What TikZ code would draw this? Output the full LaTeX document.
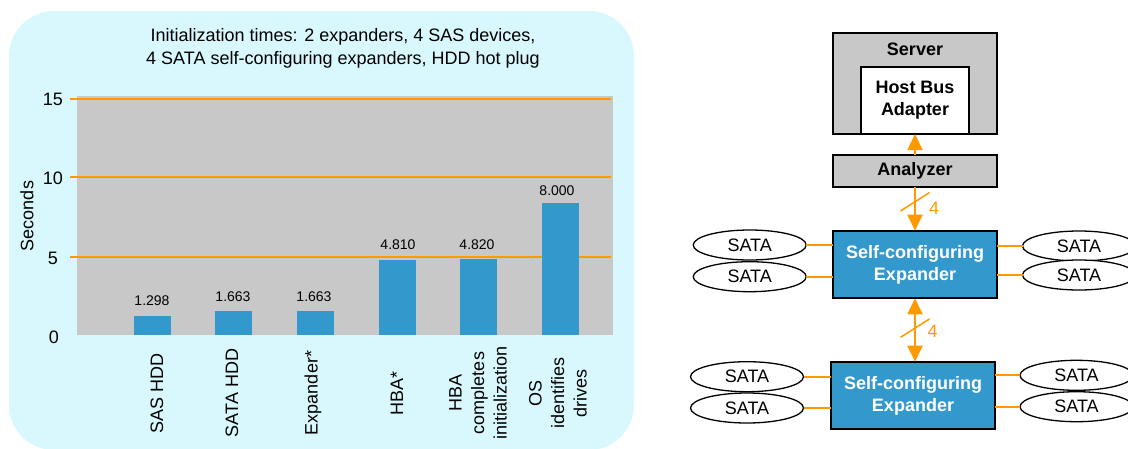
\documentclass[tikz,border=0pt]{standalone}
\usepackage{fontspec}
\setmainfont{Liberation Sans}
\usetikzlibrary{arrows.meta,calc,shapes.geometric}
\definecolor{panelbg}{RGB}{217,248,253}
\definecolor{plotgray}{RGB}{200,200,200}
\definecolor{barblue}{RGB}{51,153,204}
\definecolor{gridorange}{RGB}{255,153,0}
\tikzset{
  f18/.style={font=\fontsize{18}{22.5}\selectfont},
  bold18/.style={font=\fontsize{18}{22}\selectfont\bfseries},
  vlab/.style={font=\fontsize{14}{16}\selectfont},
  gridline/.style={gridorange, line width=2pt},
  box/.style={draw=black, line width=2pt, inner sep=0pt, outer sep=0pt},
  expbox/.style={box, fill=barblue, text=white, bold18, align=center,
    minimum width=163.4pt, minimum height=67.6pt},
  sata/.style={ellipse, draw=black, line width=1.3pt, fill=white, f18,
    minimum width=113pt, minimum height=30pt, inner sep=0pt, outer sep=0pt},
  wire/.style={gridorange, line width=2pt},
  link/.style={gridorange, line width=2pt},
  tri/.tip={Triangle[width=15pt,length=16pt]},
  slash/.style={gridorange, line width=1.5pt},
  numlab/.style={f18, text=gridorange},
}
\begin{document}
\begin{tikzpicture}[x=1pt,y=-1pt]
\useasboundingbox (0,0) rectangle (1128,448);
% ---------- chart panel ----------
\fill[panelbg, rounded corners=45pt] (9,11) rectangle (634,450);
\node[f18, align=center, font=\fontsize{18}{23.5}\selectfont] (title) at (343,48.5)
  {Initialization times: 2 expanders, 4 SAS devices,\\4 SATA self-configuring expanders, HDD hot plug};
\fill[plotgray] (77,96) rectangle (613,335);
\draw[gridline] (70,99) -- (611,99);
\draw[gridline] (70,177) -- (611,177);
\draw[gridline] (70,257) -- (611,257);
\node[f18] (t15) at (53,99) {15};
\node[f18] (t10) at (53,178) {10};
\node[f18] (t5) at (53,258) {5};
\node[f18] (t0) at (54,337) {0};
\node[f18, rotate=90] (ylab) at (27,216) {Seconds};
\foreach \bx/\btop in {152.5/316, 233.5/311, 315.5/311, 397.5/260, 478.5/259, 560.5/203}
  {\fill[barblue] (\bx-18.5,\btop) rectangle (\bx+18.5,335);}
\foreach \lx/\ly/\val in {152/301/1.298, 233/297/1.663, 314/297/1.663, 398/245/4.810, 477/245/4.820, 557/191/8.000}
  {\node[vlab] at (\lx,\ly) {\val};}
\node[f18, rotate=90, align=center] (c1) at (157,393) {SAS HDD};
\node[f18, rotate=90, align=center] (c2) at (232,393) {SATA HDD};
\node[f18, rotate=90, align=center] (c3) at (313,393) {Expander*};
\node[f18, rotate=90, align=center] (c4) at (397,393) {HBA*};
\node[f18, rotate=90, align=center] (c5) at (478,393) {HBA\\completes\\initialization};
\node[f18, rotate=90, align=center] (c6) at (558,393) {OS\\identifies\\drives};
% ---------- topology ----------
\node[box, fill=plotgray, minimum width=163.4pt, minimum height=100.7pt] (server) at (915,83.7) {};
\node[bold18] (srvlab) at (915,49) {Server};
\node[box, fill=white, minimum width=108pt, minimum height=67.3pt, bold18, align=center] (hba) at (915,100.3) {Host Bus\\Adapter};
\node[box, fill=plotgray, minimum width=163.4pt, minimum height=31.7pt, bold18] (an) at (915,171) {Analyzer};
\node[expbox] (x1) at (915,264.5) {Self-configuring\\Expander};
\node[expbox] (x2) at (913,395.5) {Self-configuring\\Expander};
\draw[link, -tri] (an.north) -- (server.south);
\draw[link, -tri] (an.south) -- (x1.north);
\draw[link, tri-tri] (x1.south) -- (x1.south |- x2.north);
\coordinate (m1) at ($(an.south)!0.34!(x1.north)$);
\draw[slash] ($(m1)+(-14.5,9.2)$) -- ($(m1)+(14.5,-9.2)$);
\node[numlab] (n1) at ($(m1)+(19,6.2)$) {4};
\coordinate (m2) at ($(x1.south)!0.47!(x1.south |- x2.north)$);
\draw[slash] ($(m2)+(-14.5,9.2)$) -- ($(m2)+(14.5,-9.2)$);
\node[numlab] (n2) at ($(m2)+(17.5,3.7)$) {4};
% SATA devices
\node[sata] (l1) at (749.7,245) {SATA};
\node[sata] (l2) at (749.7,276.7) {SATA};
\node[sata] (r1) at (1079,246) {SATA};
\node[sata] (r2) at (1079,275) {SATA};
\node[sata] (l3) at (747,376.7) {SATA};
\node[sata] (l4) at (747,408) {SATA};
\node[sata] (r3) at (1076.5,375.3) {SATA};
\node[sata] (r4) at (1076.5,406.7) {SATA};
\draw[wire] (l1.east) -- (l1.east -| x1.west);
\draw[wire] (l2.east) -- (l2.east -| x1.west);
\draw[wire] (x1.east |- r1.west) -- (r1.west);
\draw[wire] (x1.east |- r2.west) -- (r2.west);
\draw[wire] (l3.east) -- (l3.east -| x2.west);
\draw[wire] (l4.east) -- (l4.east -| x2.west);
\draw[wire] (x2.east |- r3.west) -- (r3.west);
\draw[wire] (x2.east |- r4.west) -- (r4.west);
\end{tikzpicture}
\end{document}
